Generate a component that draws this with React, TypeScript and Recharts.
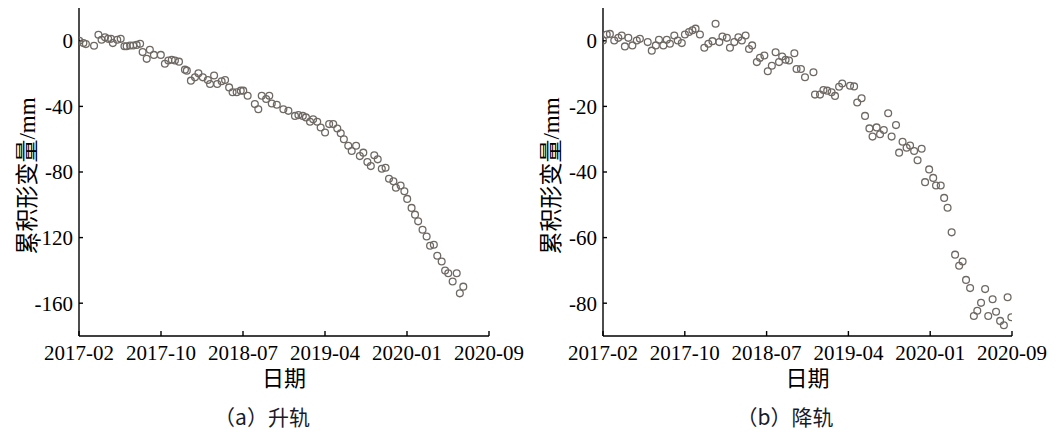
import { ScatterChart, Scatter, XAxis, YAxis } from "recharts";

// days since 2017-02-01
const dayA = [
  1, 14, 22, 48, 62, 72, 83, 93, 102, 108, 122, 133, 145, 152, 163, 173, 184,
  195, 203, 216, 226, 239, 261, 274, 285, 296, 306, 319, 338, 344, 357, 370,
  381, 395, 411, 418, 431, 441, 455, 466, 479, 490, 503, 516, 524, 538, 561,
  572, 583, 597, 607, 615, 631, 652, 668, 689, 700, 714, 724, 737, 747, 760,
  771, 785, 798, 811, 824, 835, 845, 859, 870, 884, 896, 907, 920, 931, 942,
  953, 966, 978, 989, 1003, 1011, 1026, 1038, 1047, 1061, 1072, 1082, 1096,
  1109, 1120, 1132, 1143, 1157, 1168, 1178, 1192, 1205, 1215, 1226,
];
const defA = [
  0, -1.4, -2, -3, 3.7, 0.6, 2.2, 1.2, 1.2, -1.4, 0.6, 1.2, -3.3, -3.3, -2.9,
  -2.9, -2.5, -1.8, -6.9, -11, -5.5, -8.6, -8.6, -14, -12, -11.6, -12, -12.7,
  -17.6, -18.2, -24.3, -22.3, -19.8, -22.3, -23.9, -26.3, -21.2, -26.3, -24.7,
  -23.9, -28.4, -31.4, -31.4, -30.4, -30.4, -33.5, -38.6, -41.7, -33.5, -35.5,
  -33.5, -38.2, -39, -41.7, -42.7, -45.8, -45.3, -45.8, -46.7, -49.4, -47.8,
  -49.4, -52.9, -55.9, -50.8, -50.8, -53.5, -56.4, -60, -64, -67.2, -64,
  -70.3, -68.2, -73.9, -76.4, -69.8, -72.3, -78, -77.4, -84.1, -85.6, -89.6,
  -88.2, -91.7, -96.4, -101.9, -106, -110.1, -115.2, -119.3, -125, -124.4,
  -131.1, -134.6, -140.1, -141.7, -146.8, -141.7, -154, -149.9,
];

const dayB = [
  0, 12, 22, 36, 49, 60, 70, 81, 94, 108, 118, 143, 156, 169, 179, 193, 204,
  214, 228, 239, 252, 262, 275, 286, 296, 310, 324, 337, 350, 360, 372, 382,
  396, 406, 420, 433, 444, 456, 467, 477, 492, 502, 516, 527, 540, 552, 563,
  573, 584, 595, 612, 619, 633, 646, 673, 678, 694, 705, 717, 731, 742, 755,
  765, 790, 803, 813, 827, 838, 852, 862, 875, 886, 898, 912, 923, 937, 947,
  958, 971, 982, 995, 1006, 1019, 1030, 1043, 1056, 1065, 1080, 1091, 1102,
  1115, 1126, 1139, 1150, 1161, 1174, 1186, 1197, 1209, 1222, 1232, 1246,
  1257, 1270, 1282, 1294, 1306,
];
const defB = [
  0.1, 1.9, 2.1, 0.1, 0.9, 1.6, -1.7, 0.9, -1.4, 0.1, 0.6, -0.4, -3, -1.4,
  0.3, -1.4, 0.3, -0.9, 1.6, 0.1, -0.7, 1.9, 2.7, 3.2, 3.7, 1.9, -2.1, -0.9,
  -0.1, 5.2, -0.4, 1.3, 0.9, -2.1, -0.4, 1.1, 0.1, 1.6, -2.5, -1.4, -6.5,
  -5.2, -4.5, -9.3, -7.6, -3.5, -6.5, -4.8, -5.8, -6, -3.8, -8.6, -8.6, -11.1,
  -9.6, -16.4, -16.4, -15, -15.2, -15.7, -16.8, -14, -13, -13.7, -13.9, -18.8,
  -17.5, -22.9, -26.7, -29.2, -26.4, -28.5, -27.2, -22.1, -29.2, -25.7, -34.1,
  -30.8, -32.6, -31.9, -33.6, -36.4, -32.9, -43.1, -39.2, -41.8, -44.1, -44.1,
  -47.9, -50.9, -58.4, -65.2, -68.6, -67.3, -72.9, -75.4, -83.9, -82.3, -79.9,
  -75.7, -83.9, -78.8, -82.6, -85.4, -86.7, -78.2, -84.3,
];

const xTickLabels = ["2017-02", "2017-10", "2018-07", "2019-04", "2020-01", "2020-09"];
const xTicks = [0, 261.6, 523.2, 784.8, 1046.4, 1308];
const yTicksA = [-160, -120, -80, -40, 0];
const yTicksB = [-80, -60, -40, -20, 0];

const serif = "'Liberation Serif', 'Times New Roman', serif";
const cjk = "'Liberation Serif', 'Noto Sans CJK SC'";
const ink = "#000";
const dotColor = "#6f6964";

function Dot(props: any) {
  if (props.cx == null) return null;
  return (
    <circle cx={props.cx} cy={props.cy} r={3.4} fill="none" stroke={dotColor} strokeWidth={1.3} />
  );
}

function XTick(props: any) {
  const { x, y, index } = props;
  return (
    <text x={x} y={y} dy="0.71em" textAnchor="middle" fontFamily={serif} fontSize={21} fill={ink}>
      {xTickLabels[index]}
    </text>
  );
}

function YTick(props: any) {
  const { x, y, payload } = props;
  return (
    <text x={x} y={y} dy="0.355em" textAnchor="end" fontFamily={serif} fontSize={21} fill={ink}>
      {payload.value}
    </text>
  );
}

interface PanelProps {
  left: number;
  days: number[];
  values: number[];
  domain: [number, number];
  yTicks: number[];
  yWidth: number;
  rightMargin: number;
  caption: string;
  captionX: number;
}

function Panel({ left, days, values, domain, yTicks, yWidth, rightMargin, caption, captionX }: PanelProps) {
  const data = days.map((d, i) => ({ x: d, y: values[i] }));
  const plotMid = (yWidth + (529 - rightMargin)) / 2;
  return (
    <div style={{ position: "absolute", left, top: 0, width: 529, height: 436 }}>
      <ScatterChart
        width={529}
        height={436}
        margin={{ top: 8, right: rightMargin, bottom: 70, left: 0 }}
      >
        <XAxis
          type="number"
          dataKey="x"
          domain={[0, 1308]}
          ticks={xTicks}
          interval={0}
          height={30}
          tickSize={-5}
          tickMargin={14}
          tick={<XTick />}
          axisLine={{ stroke: ink, strokeWidth: 1.4 }}
          tickLine={{ stroke: ink, strokeWidth: 1.4 }}
          allowDataOverflow
        />
        <YAxis
          type="number"
          dataKey="y"
          domain={domain}
          ticks={yTicks}
          interval={0}
          width={yWidth}
          tickSize={-4}
          tickMargin={10}
          tick={<YTick />}
          axisLine={{ stroke: ink, strokeWidth: 1.4 }}
          tickLine={{ stroke: ink, strokeWidth: 1.4 }}
          allowDataOverflow
        />
        <Scatter data={data} shape={<Dot />} isAnimationActive={false} />
      </ScatterChart>
      <div
        style={{
          position: "absolute",
          left: yWidth - 54,
          top: 176,
          transform: "translate(-50%, -50%) rotate(-90deg)",
          whiteSpace: "nowrap",
          fontFamily: cjk,
          fontSize: 23,
          color: ink,
        }}
      >
        累积形变量/mm
      </div>
      <div
        style={{
          position: "absolute",
          left: plotMid,
          top: 376,
          transform: "translate(-50%, -50%)",
          whiteSpace: "nowrap",
          fontFamily: cjk,
          fontSize: 22,
          color: ink,
        }}
      >
        日期
      </div>
      <div
        style={{
          position: "absolute",
          left: captionX,
          top: 416,
          transform: "translate(-50%, -50%)",
          whiteSpace: "nowrap",
          fontFamily: "'Noto Sans CJK SC'",
          fontSize: 21,
          color: "#1a1a2a",
        }}
      >
        {caption}
      </div>
    </div>
  );
}

export default function App() {
  return (
    <div style={{ position: "absolute", left: 0, top: 0, width: 1058, height: 436, background: "#fff" }}>
      <Panel
        left={0}
        days={dayA}
        values={defA}
        domain={[-180, 20]}
        yTicks={yTicksA}
        yWidth={79}
        rightMargin={40}
        caption="（a）升轨"
        captionX={262}
      />
      <Panel
        left={529}
        days={dayB}
        values={defB}
        domain={[-90, 10]}
        yTicks={yTicksB}
        yWidth={74}
        rightMargin={46}
        caption="（b）降轨"
        captionX={256}
      />
    </div>
  );
}
